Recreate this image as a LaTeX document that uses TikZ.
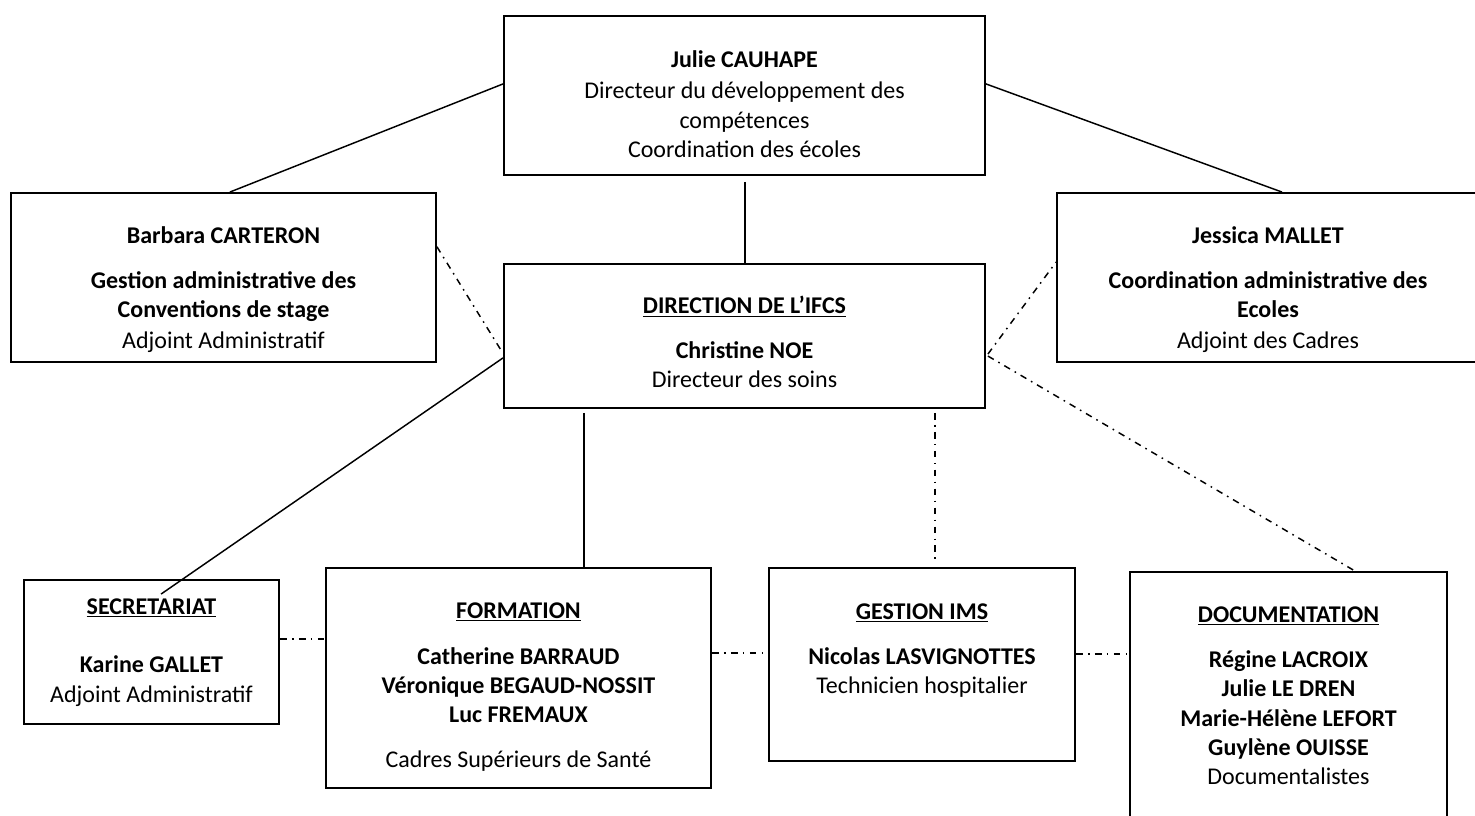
\documentclass[tikz,border=0pt]{standalone}
\usepackage{fontspec}
\setmainfont{Carlito}
\usetikzlibrary{fit,calc}
\tikzset{
  box/.style={draw, line width=1.4pt, inner sep=0pt},
  txt/.style={anchor=base, inner sep=0pt, font=\fontsize{18}{22}\selectfont},
  solidlink/.style={line width=1.1pt},
  dashdotlink/.style={line width=1.1pt, dash pattern=on 5pt off 4pt on 1.2pt off 4pt},
}
\begin{document}
\begin{tikzpicture}[x=0.75pt,y=-0.75pt]
\useasboundingbox (0,0) rectangle (1475,816);
% boxes
\node[box, fit={(504,16) (985,175)}] (julie) {};
\node[box, fit={(11,193) (436,362)}] (barbara) {};
\node[box, fit={(1057,193) (1479,362)}] (jessica) {};
\node[box, fit={(504,264) (985,408)}] (direction) {};
\node[box, fit={(24,580) (279,724)}] (secr) {};
\node[box, fit={(326,568) (711,788)}] (formation) {};
\node[box, fit={(769,568) (1075,761)}] (gestion) {};
\node[box, fit={(1130,572) (1447,830)}] (doc) {};
% texts
\node[txt] (j1) at (744.5,68) {\textbf{Julie CAUHAPE}};
\node[txt] (j2) at (744.5,99) {Directeur du développement des};
\node[txt] (j3) at (744.5,129) {compétences};
\node[txt] (j4) at (744.5,158) {Coordination des écoles};
\node[txt] (b1) at (223.5,244) {\textbf{Barbara CARTERON}};
\node[txt] (b2) at (223.5,289) {\textbf{Gestion administrative des}};
\node[txt] (b3) at (223.5,318) {\textbf{Conventions de stage}};
\node[txt] (b4) at (223.5,349) {Adjoint Administratif};
\node[txt] (m1) at (1268,244) {\textbf{Jessica MALLET}};
\node[txt] (m2) at (1268,289) {\textbf{Coordination administrative des}};
\node[txt] (m3) at (1268,318) {\textbf{Ecoles}};
\node[txt] (m4) at (1268,349) {Adjoint des Cadres};
\node[txt] (d1) at (744.5,314) {\underline{\textbf{DIRECTION DE L’IFCS}}};
\node[txt] (d2) at (744.5,359) {\textbf{Christine NOE}};
\node[txt] (d3) at (744.5,388) {Directeur des soins};
\node[txt] (s1) at (151.5,614) {\underline{\textbf{SECRETARIAT}}};
\node[txt] (s2) at (151.5,672) {\textbf{Karine GALLET}};
\node[txt] (s3) at (151.5,702) {Adjoint Administratif};
\node[txt] (f1) at (518.5,618) {\underline{\textbf{FORMATION}}};
\node[txt] (f2) at (518.5,664) {\textbf{Catherine BARRAUD}};
\node[txt] (f3) at (518.5,693) {\textbf{Véronique BEGAUD-NOSSIT}};
\node[txt] (f4) at (518.5,722) {\textbf{Luc FREMAUX}};
\node[txt] (f5) at (518.5,767) {Cadres Supérieurs de Santé};
\node[txt] (g1) at (922,619) {\underline{\textbf{GESTION IMS}}};
\node[txt] (g2) at (922,664) {\textbf{Nicolas LASVIGNOTTES}};
\node[txt] (g3) at (922,693) {Technicien hospitalier};
\node[txt] (o1) at (1288.5,622) {\underline{\textbf{DOCUMENTATION}}};
\node[txt] (o2) at (1288.5,667) {\textbf{Régine LACROIX}};
\node[txt] (o3) at (1288.5,696) {\textbf{Julie LE DREN}};
\node[txt] (o4) at (1288.5,726) {\textbf{Marie-Hélène LEFORT}};
\node[txt] (o5) at (1288.5,755) {\textbf{Guylène OUISSE}};
\node[txt] (o6) at (1288.5,784) {Documentalistes};
% solid connectors
\draw[solidlink] ($(julie.north west)!0.428!(julie.south west)$) -- ($(barbara.north west)!0.515!(barbara.north east)$);
\draw[solidlink] ($(julie.north east)!0.428!(julie.south east)$) -- ($(jessica.north west)!0.533!(jessica.north east)$);
\draw[solidlink] ($(julie.south)+(0.5,6)$) -- ($(direction.north)+(0.5,0)$);
\draw[solidlink] ($(direction.north west)!0.65!(direction.south west)$) -- ($(secr.north west)+(138,15)$);
\draw[solidlink] ($(direction.south west)+(81,4)$) -- ($(formation.north west)+(259,0)$);
% dash-dot connectors
\draw[dashdotlink] ($(barbara.north east)!0.32!(barbara.south east)$) -- ($(direction.north west)!0.62!(direction.south west)$);
\draw[dashdotlink] ($(direction.north east)+(2,91)$) -- ($(jessica.north west)!0.41!(jessica.south west)$);
\draw[dashdotlink] ($(direction.north east)+(2,93)$) -- ($(doc.north west)+(226,0)$);
\draw[dashdotlink] ($(direction.south west)+(432,4)$) -- ($(gestion.north west)+(167,-6)$);
\draw[dashdotlink] ($(secr.north east)+(0,60)$) -- ($(formation.north west)+(0,72)$);
\draw[dashdotlink] ($(formation.north east)+(0,86)$) -- ($(gestion.north west)+(0,86)$);
\draw[dashdotlink] ($(gestion.north east)+(0,87)$) -- ($(doc.north west)+(0,83)$);
\end{tikzpicture}
\end{document}
